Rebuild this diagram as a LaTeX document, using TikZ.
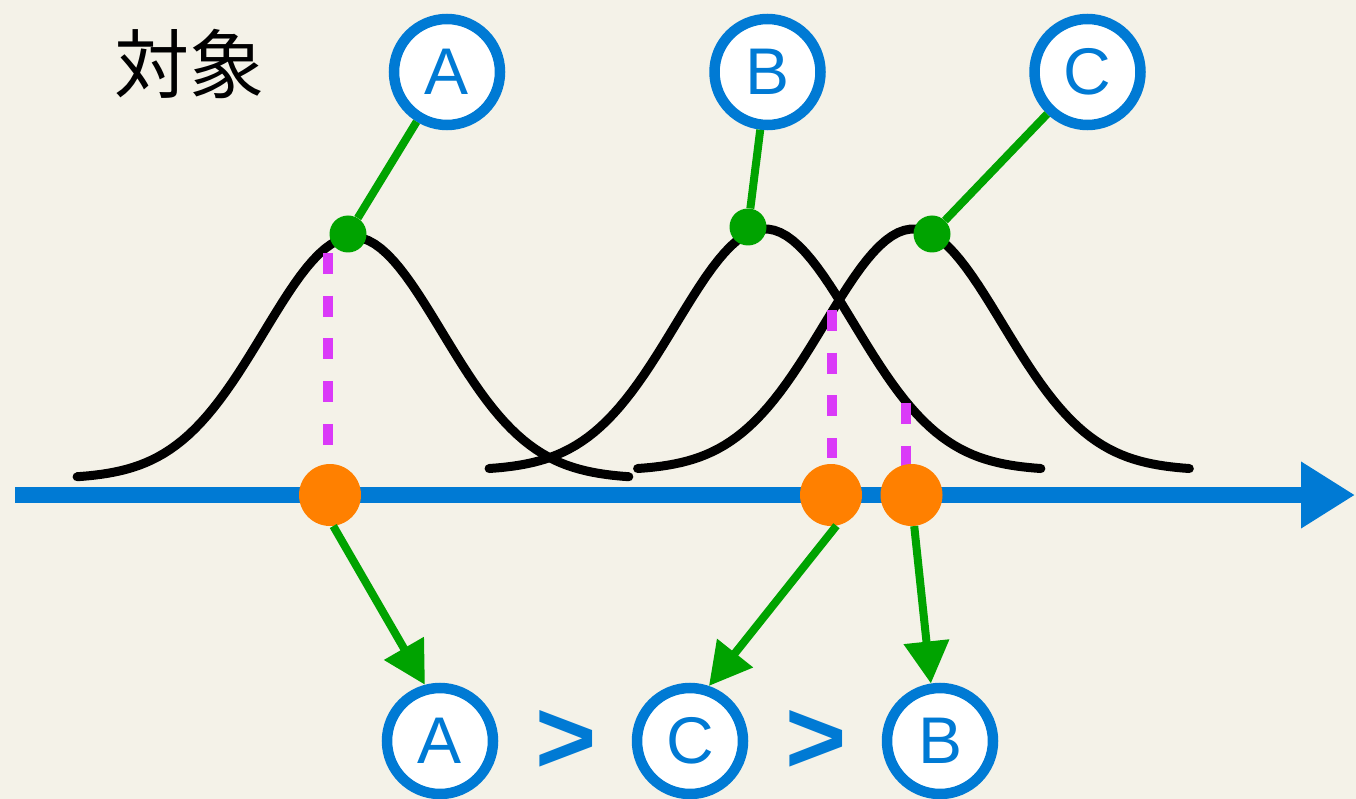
\documentclass[tikz,border=0pt]{standalone}
\usepackage{fontspec}
\setmainfont{Liberation Sans}
\newfontfamily\cjkfont{Noto Sans CJK JP}
\usetikzlibrary{arrows.meta}
\definecolor{paper}{RGB}{244,242,232}
\definecolor{ablue}{RGB}{0,122,212}
\definecolor{agreen}{RGB}{0,163,0}
\definecolor{aorange}{RGB}{255,128,0}
\definecolor{amag}{RGB}{218,58,248}
\begin{document}
\begin{tikzpicture}[x=1pt,y=-1pt,
  bell/.style={line width=9pt, line cap=round, draw=black},
  guide/.style={line width=10pt, draw=amag, dash pattern=on 21pt off 21.7pt},
  axisline/.style={line width=16pt, draw=ablue, -{Triangle[length=54pt,width=63pt]}},
  letterball/.style={circle, draw=ablue, fill=white, line width=10.5pt, minimum size=106pt, inner sep=0pt, text=ablue, font=\fontsize{66}{66}\selectfont},
  odot/.style={circle, fill=aorange, minimum size=62pt, inner sep=0pt},
  gdot/.style={circle, fill=agreen, minimum size=37pt, inner sep=0pt},
  link/.style={draw=agreen, line width=8pt},
  pick/.style={draw=agreen, line width=8pt, -{Triangle[length=42pt,width=44pt]}},
  gtsign/.style={text=ablue, font=\bfseries\fontsize{105}{105}\selectfont, inner sep=0pt}
]
\fill[paper] (0,0) rectangle (1356,799);
\useasboundingbox (0,0) rectangle (1356,799);

% bell curves
\draw[bell] plot[domain=-3.1:3.1, samples=90] ({353+89*\x}, {478.7-241.7*exp(-0.5*\x*\x)});
\draw[bell] plot[domain=-3.1:3.1, samples=90] ({765+89*\x}, {470.5-241.5*exp(-0.5*\x*\x)});
\draw[bell] plot[domain=-3.1:3.1, samples=90] ({913.5+89*\x}, {470.5-241.5*exp(-0.5*\x*\x)});

% dashed guides
\coordinate (d1t) at (328,253); \coordinate (d1b) at (328,445);
\coordinate (d2t) at (832,310); \coordinate (d2b) at (832,458);
\coordinate (d3t) at (906,403); \coordinate (d3b) at (906,468);
\draw[guide] (d1t) -- (d1b);
\draw[guide] (d2t) -- (d2b);
\draw[guide] (d3t) -- (d3b);

% axis
\coordinate (axL) at (15,495); \coordinate (axR) at (1355,495);
\draw[axisline] (axL) -- (axR);

% orange dots
\node[odot] (o1) at (330,495) {};
\node[odot] (o2) at (831,495) {};
\node[odot] (o3) at (911.5,495) {};

% green dots
\node[gdot] (gA) at (348,234) {};
\node[gdot] (gB) at (748,227) {};
\node[gdot] (gC) at (932,234) {};

% top circles
\node[letterball] (tA) at (447,72) {A};
\node[letterball] (tB) at (767.5,72) {B};
\node[letterball] (tC) at (1087.5,72) {C};

% bottom circles
\node[letterball] (bA) at (440,741) {A};
\node[letterball] (bC) at (690,741) {C};
\node[letterball] (bB) at (940,741) {B};

% signs
\node[gtsign] (s1) at (566,742) {>};
\node[gtsign] (s2) at (816,742) {>};

% title
\node[anchor=base west, inner sep=0pt, font=\cjkfont\fontsize{75}{75}\selectfont] (title) at (114,93) {対象};

% connectors
\draw[link] (gA) -- (tA);
\draw[link] (gB) -- (tB);
\draw[link] (gC) -- (tC);
\draw[pick] (o1.-84) -- (bA.105);
\draw[pick] (o2.-80) -- (bC.71);
\draw[pick] (o3.-85) -- (bB.99);
\end{tikzpicture}
\end{document}
